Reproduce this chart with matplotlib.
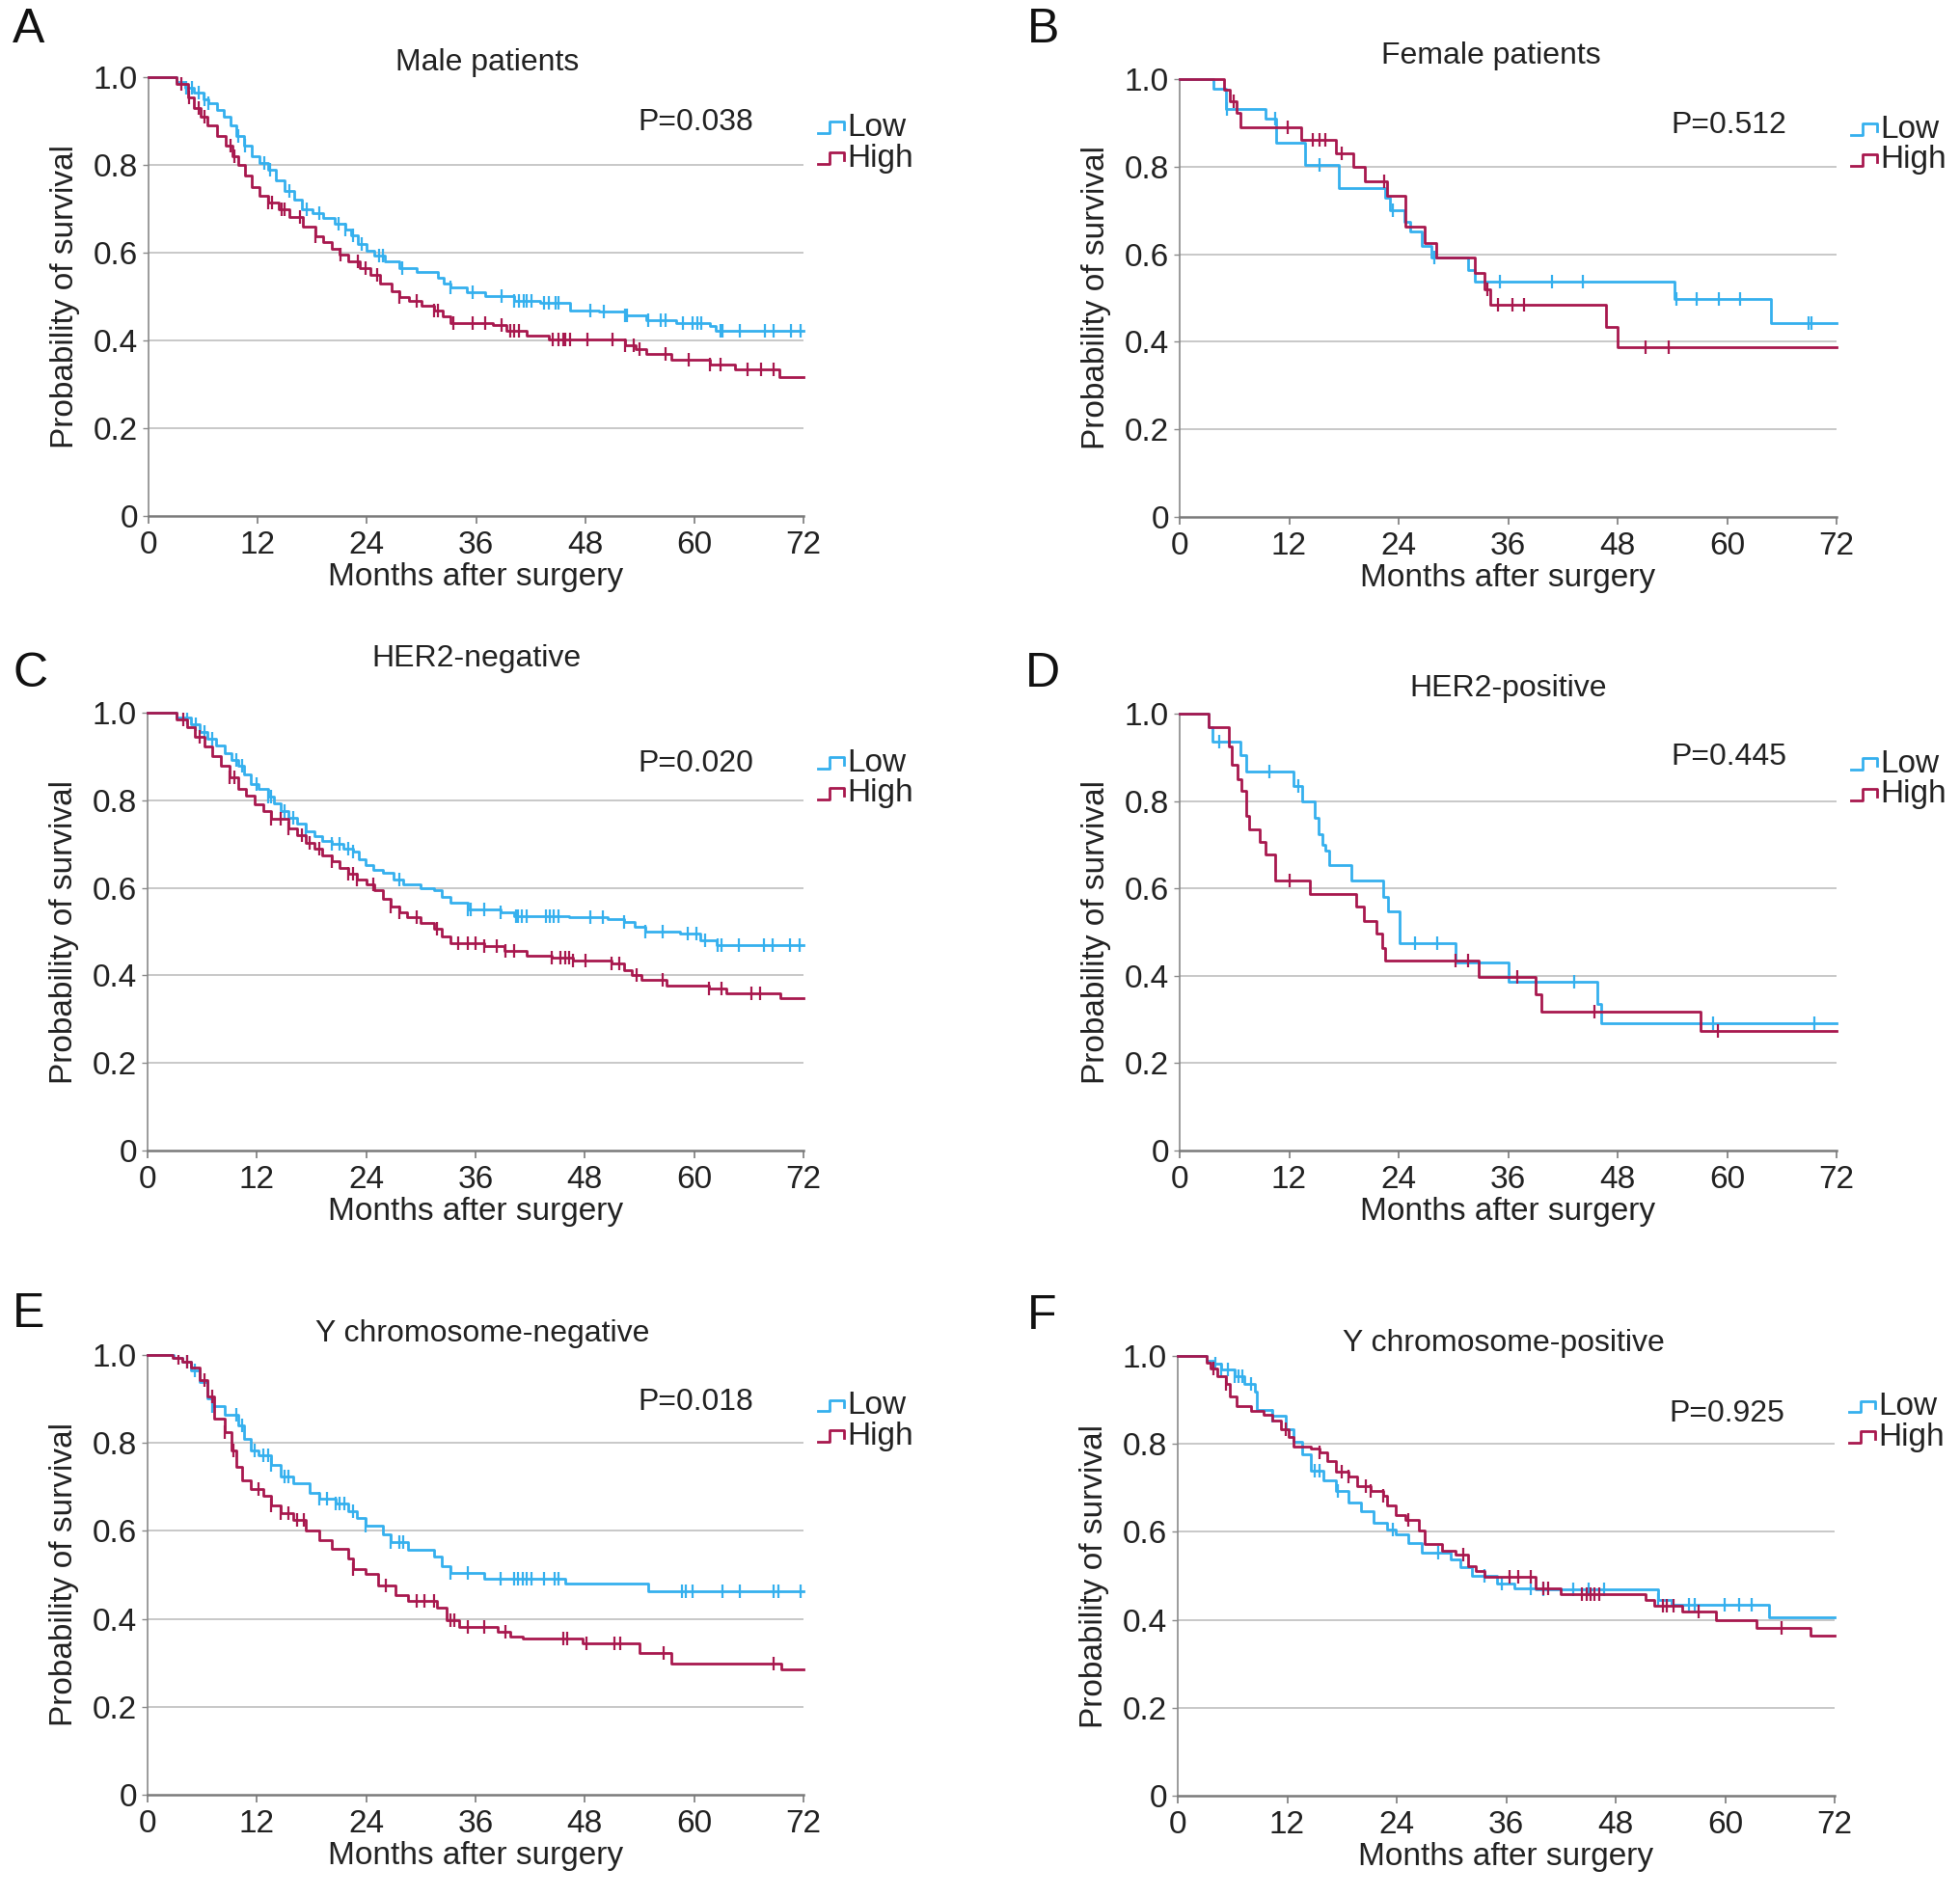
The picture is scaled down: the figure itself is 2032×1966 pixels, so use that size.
import numpy as np
import matplotlib
matplotlib.use("Agg")
import matplotlib.pyplot as plt

plt.rcParams['font.family'] = ['Liberation Sans Narrow', 'Liberation Sans', 'DejaVu Sans']

BLUE = '#35b0ee'
RED = '#a8184e'
W, H = 2032, 1966

# ---- A: male patients
a_low_t = [3.1, 4.0, 5.0, 6.0, 6.6, 7.5, 8.3, 9.0, 9.7, 10.5, 11.3, 12.2, 13.2, 14.0, 15.0, 16.0, 16.9, 18.0,
           19.2, 20.5, 21.6, 22.3, 23.0, 24.0, 24.8, 26.0, 27.6, 29.5, 31.8, 32.5, 33.2, 35.0, 37.0, 40.2,
           43.0, 46.3, 49.5, 52.4, 54.7, 58.0, 61.7, 62.4]
a_low_s = [0.99, 0.975, 0.965, 0.95, 0.94, 0.925, 0.91, 0.89, 0.866, 0.845, 0.82, 0.805, 0.79, 0.765, 0.74,
           0.72, 0.70, 0.69, 0.68, 0.665, 0.653, 0.64, 0.62, 0.605, 0.594, 0.58, 0.565, 0.555, 0.543, 0.53,
           0.52, 0.51, 0.502, 0.49, 0.486, 0.469, 0.465, 0.458, 0.447, 0.44, 0.432, 0.421]
a_low_c = [4.1, 4.8, 5.5, 6.2, 6.6, 9.9, 10.6, 12.7, 13.4, 15.5, 17.4, 18.8, 20.9, 21.6, 22.5, 23.4, 25.3,
           25.8, 27.9, 33.2, 35.6, 38.8, 40.2, 40.7, 41.2, 41.6, 42.1, 43.5, 44.0, 44.7, 45.1, 48.6, 50.0,
           52.4, 52.6, 54.9, 56.3, 56.8, 58.7, 59.8, 60.3, 60.8, 62.9, 63.1, 65.0, 67.8, 68.7, 70.6, 71.7]
a_high_t = [3.1, 4.3, 5.0, 5.7, 6.5, 7.5, 8.5, 9.2, 9.9, 10.6, 11.3, 12.2, 13.2, 14.3, 15.5, 17.0, 18.3, 19.2,
            20.2, 21.0, 22.0, 23.2, 24.4, 25.5, 26.7, 27.6, 28.6, 30.0, 31.4, 32.3, 33.2, 37.9, 39.3, 41.6,
            44.0, 52.4, 53.5, 54.7, 57.5, 61.7, 64.5, 69.4]
a_high_s = [0.985, 0.954, 0.93, 0.91, 0.89, 0.865, 0.844, 0.82, 0.80, 0.775, 0.749, 0.73, 0.715, 0.70, 0.682,
            0.66, 0.638, 0.625, 0.609, 0.595, 0.58, 0.565, 0.55, 0.53, 0.513, 0.50, 0.491, 0.48, 0.469, 0.455,
            0.44, 0.436, 0.421, 0.41, 0.403, 0.388, 0.38, 0.37, 0.355, 0.344, 0.333, 0.316]
a_high_c = [3.6, 4.5, 5.5, 6.2, 9.0, 9.4, 13.2, 13.6, 14.6, 15.0, 16.7, 18.3, 21.1, 23.0, 23.9, 25.1, 27.6,
            29.5, 31.4, 31.8, 33.5, 35.6, 37.0, 38.8, 39.8, 40.2, 40.7, 44.4, 45.1, 45.6, 45.8, 46.3, 48.2,
            51.0, 52.4, 53.3, 54.0, 56.8, 59.4, 61.7, 62.9, 65.9, 67.3, 68.7]

# ---- B: female patients
b_low_t = [3.7, 5.1, 9.4, 10.6, 13.7, 17.4, 22.5, 23.0, 24.6, 25.3, 26.5, 27.6, 31.6, 32.3, 54.2, 64.8]
b_low_s = [0.979, 0.932, 0.91, 0.855, 0.803, 0.752, 0.73, 0.70, 0.674, 0.652, 0.62, 0.593, 0.564, 0.537,
           0.498, 0.443]
b_low_c = [5.2, 10.5, 15.3, 23.4, 27.9, 35.1, 40.8, 44.2, 54.4, 56.7, 59.1, 61.4, 68.9, 69.3]
b_high_t = [4.9, 5.5, 6.2, 6.7, 13.3, 17.1, 19.0, 20.3, 22.7, 24.7, 26.9, 28.1, 32.3, 33.4, 34.0, 46.7, 48.0]
b_high_s = [0.976, 0.95, 0.924, 0.889, 0.862, 0.83, 0.80, 0.766, 0.733, 0.663, 0.626, 0.593, 0.557, 0.52,
            0.484, 0.433, 0.388]
b_high_c = [5.9, 11.8, 14.6, 15.3, 16.0, 17.8, 22.4, 33.7, 34.9, 36.5, 37.7, 51.1, 53.6]

# ---- C: HER2-negative
c_low_t = [3.2, 4.8, 5.7, 6.6, 7.5, 8.5, 9.2, 9.9, 10.6, 11.3, 12.2, 13.2, 13.9, 14.6, 15.5, 16.4, 17.4, 18.3,
           19.2, 20.2, 21.5, 22.5, 23.2, 23.9, 24.8, 25.8, 27.0, 28.1, 30.0, 31.4, 32.3, 33.2, 35.1, 38.8,
           40.2, 46.3, 50.5, 52.3, 53.5, 54.6, 58.4, 60.7, 62.5]
c_low_s = [0.99, 0.973, 0.955, 0.94, 0.925, 0.907, 0.893, 0.878, 0.86, 0.838, 0.825, 0.809, 0.792, 0.776,
           0.76, 0.747, 0.73, 0.718, 0.708, 0.70, 0.69, 0.682, 0.665, 0.652, 0.642, 0.634, 0.62, 0.609, 0.60,
           0.594, 0.58, 0.565, 0.55, 0.543, 0.536, 0.532, 0.528, 0.521, 0.51, 0.499, 0.495, 0.48, 0.47]
c_low_c = [4.3, 5.3, 6.2, 7.1, 9.7, 10.4, 12.0, 13.2, 13.6, 15.0, 16.0, 17.4, 20.2, 21.1, 22.0, 22.5, 27.6,
           35.1, 35.5, 36.9, 38.8, 40.4, 40.7, 41.1, 41.6, 43.7, 44.2, 44.6, 45.1, 48.6, 50.0, 52.3, 54.6,
           56.5, 59.3, 60.2, 61.2, 62.6, 63.0, 64.9, 67.7, 68.6, 70.5, 71.6]
c_high_t = [3.2, 4.3, 5.2, 6.2, 7.1, 8.0, 9.0, 9.9, 10.8, 11.8, 12.7, 13.6, 15.5, 16.4, 17.4, 18.3, 19.2, 20.2,
            21.1, 22.0, 23.0, 24.0, 24.9, 25.8, 26.7, 27.6, 28.5, 30.0, 31.4, 32.3, 33.2, 36.9, 39.2, 41.6,
            44.4, 46.7, 50.9, 52.3, 53.2, 54.2, 57.0, 61.6, 63.5, 69.5]
c_high_s = [0.985, 0.966, 0.945, 0.922, 0.90, 0.878, 0.853, 0.827, 0.81, 0.79, 0.775, 0.758, 0.736, 0.72,
            0.703, 0.69, 0.674, 0.66, 0.645, 0.632, 0.62, 0.607, 0.594, 0.575, 0.558, 0.545, 0.532, 0.52,
            0.507, 0.49, 0.474, 0.467, 0.456, 0.445, 0.441, 0.434, 0.427, 0.412, 0.40, 0.39, 0.376, 0.369,
            0.358, 0.347]
c_high_c = [3.9, 5.7, 9.0, 9.5, 13.6, 14.6, 15.5, 16.9, 17.8, 18.8, 20.2, 22.0, 22.5, 23.0, 24.8, 26.7,
            27.6, 29.5, 31.8, 34.1, 35.1, 36.0, 36.9, 38.3, 39.3, 40.2, 44.4, 45.3, 45.8, 46.3, 46.7, 48.1,
            50.9, 51.8, 53.7, 56.5, 61.6, 63.0, 66.3, 67.2]

# ---- D: HER2-positive
d_low_t = [3.2, 3.6, 6.7, 7.3, 12.5, 13.4, 14.8, 15.2, 15.7, 16.0, 16.4, 18.8, 22.3, 22.8, 24.1, 30.2, 36.0,
           45.8, 46.2]
d_low_s = [0.969, 0.937, 0.904, 0.867, 0.835, 0.80, 0.762, 0.725, 0.70, 0.686, 0.654, 0.617, 0.58, 0.547,
           0.474, 0.43, 0.387, 0.336, 0.292]
d_low_c = [4.3, 9.8, 13.0, 25.8, 28.2, 43.2, 58.5, 69.6]
d_high_t = [3.2, 5.4, 5.7, 6.3, 6.8, 7.3, 7.6, 8.8, 9.4, 10.5, 14.3, 19.4, 20.2, 21.6, 22.2, 22.5, 32.8, 39.0,
            39.7, 57.1]
d_high_s = [0.969, 0.926, 0.882, 0.849, 0.824, 0.766, 0.736, 0.707, 0.678, 0.617, 0.587, 0.558, 0.525, 0.496,
            0.463, 0.434, 0.398, 0.358, 0.318, 0.274]
d_high_c = [12.0, 30.2, 31.6, 37.0, 45.5, 59.0]

# ---- E: Y chromosome-negative
e_low_t = [2.9, 3.8, 4.8, 5.7, 6.6, 7.1, 8.5, 9.9, 10.6, 11.3, 12.2, 13.6, 14.6, 16.0, 17.8, 18.8, 20.6, 22.0,
           23.0, 23.9, 25.8, 26.7, 28.6, 31.4, 32.3, 33.2, 37.0, 45.8, 54.9]
e_low_s = [0.993, 0.985, 0.964, 0.938, 0.902, 0.884, 0.865, 0.84, 0.81, 0.782, 0.771, 0.749, 0.724, 0.709,
           0.687, 0.673, 0.662, 0.644, 0.63, 0.611, 0.593, 0.575, 0.556, 0.542, 0.52, 0.504, 0.492, 0.48,
           0.463]
e_low_c = [4.3, 5.2, 7.1, 9.7, 10.4, 11.8, 12.7, 13.2, 13.6, 15.0, 15.5, 18.8, 19.7, 20.6, 21.1, 21.6, 22.5,
           23.9, 26.7, 27.6, 28.1, 33.2, 35.1, 38.8, 40.2, 40.7, 41.2, 41.6, 42.1, 43.5, 44.7, 45.1, 58.7,
           59.1, 59.8, 63.1, 65.0, 68.7, 69.2, 71.7]
e_high_t = [2.7, 3.8, 4.8, 5.7, 6.6, 7.3, 8.5, 9.2, 9.7, 10.4, 11.3, 12.7, 13.6, 14.6, 16.0, 17.4, 18.8, 20.2,
            22.0, 22.5, 23.9, 25.3, 27.2, 28.6, 31.8, 32.8, 34.2, 38.4, 39.8, 41.2, 47.7, 54.0, 57.5, 69.6]
e_high_s = [0.993, 0.985, 0.971, 0.942, 0.905, 0.855, 0.825, 0.782, 0.745, 0.716, 0.695, 0.68, 0.658, 0.64,
            0.625, 0.60, 0.578, 0.56, 0.538, 0.513, 0.502, 0.476, 0.455, 0.44, 0.425, 0.396, 0.382, 0.371,
            0.36, 0.356, 0.345, 0.323, 0.298, 0.285]
e_high_c = [3.4, 4.3, 6.2, 7.1, 8.5, 9.4, 12.2, 13.6, 14.6, 15.5, 16.4, 17.1, 22.5, 26.2, 29.5, 30.4, 31.4,
            33.2, 33.7, 35.1, 37.0, 39.3, 45.6, 46.1, 48.2, 51.2, 51.9, 56.6, 68.7]

# ---- F: Y chromosome-positive
f_low_t = [3.2, 3.9, 4.8, 6.2, 7.3, 8.5, 8.7, 10.4, 11.8, 12.7, 13.6, 14.6, 16.0, 17.3, 18.7, 20.1, 21.5, 22.9,
           23.9, 25.3, 26.7, 29.9, 31.0, 32.2, 35.0, 36.9, 39.2, 52.7, 54.1, 64.8]
f_low_s = [0.99, 0.983, 0.969, 0.954, 0.936, 0.918, 0.878, 0.863, 0.834, 0.805, 0.776, 0.74, 0.718, 0.693,
           0.667, 0.646, 0.62, 0.606, 0.595, 0.575, 0.552, 0.537, 0.52, 0.501, 0.483, 0.472, 0.47, 0.446,
           0.435, 0.405]
f_low_c = [4.1, 4.8, 5.5, 6.2, 6.7, 7.1, 8.0, 10.4, 15.0, 15.5, 17.6, 23.6, 28.5, 33.6, 35.5, 38.7, 40.1,
           43.4, 45.0, 46.7, 52.7, 56.0, 56.7, 59.9, 61.5, 62.9]
f_high_t = [3.2, 3.6, 4.3, 5.3, 5.7, 6.4, 8.0, 9.4, 10.4, 11.3, 12.2, 12.7, 14.6, 15.5, 16.4, 17.3, 18.7, 19.7,
            21.1, 22.5, 22.9, 23.9, 25.0, 26.4, 27.1, 29.0, 30.4, 31.8, 32.7, 33.6, 39.2, 42.0, 51.3, 52.2,
            55.3, 59.0, 63.4, 69.4]
f_high_s = [0.985, 0.972, 0.954, 0.936, 0.907, 0.885, 0.874, 0.867, 0.852, 0.834, 0.816, 0.794, 0.79, 0.78,
            0.761, 0.736, 0.725, 0.703, 0.693, 0.682, 0.66, 0.638, 0.627, 0.602, 0.573, 0.558, 0.548, 0.523,
            0.511, 0.497, 0.472, 0.458, 0.446, 0.432, 0.418, 0.40, 0.382, 0.363]
f_high_c = [3.9, 5.3, 11.8, 15.5, 18.0, 18.7, 20.6, 21.1, 22.5, 25.3, 31.3, 36.4, 37.3, 38.7, 40.1, 40.6,
            44.3, 44.8, 45.3, 45.7, 46.2, 53.2, 53.6, 54.3, 57.1, 66.2]

titles = ['Male patients', 'Female patients', 'HER2-negative', 'HER2-positive',
          'Y chromosome-negative', 'Y chromosome-positive']
pvalues = ['P=0.038', 'P=0.512', 'P=0.020', 'P=0.445', 'P=0.018', 'P=0.925']
letters = ['A', 'B', 'C', 'D', 'E', 'F']

panels = [
    (a_low_t, a_low_s, a_low_c, a_high_t, a_high_s, a_high_c),
    (b_low_t, b_low_s, b_low_c, b_high_t, b_high_s, b_high_c),
    (c_low_t, c_low_s, c_low_c, c_high_t, c_high_s, c_high_c),
    (d_low_t, d_low_s, d_low_c, d_high_t, d_high_s, d_high_c),
    (e_low_t, e_low_s, e_low_c, e_high_t, e_high_s, e_high_c),
    (f_low_t, f_low_s, f_low_c, f_high_t, f_high_s, f_high_c),
]

# layout in pixels: (left, right, top, bottom) of axes, title xy, letter xy, p-value y
boxes = [(154, 833, 80, 535), (1223, 1904, 82, 536), (153, 833, 739, 1193),
         (1223, 1904, 740, 1193), (153, 833, 1405, 1861), (1221, 1902, 1406, 1862)]
title_xy = [(505, 65), (1546, 58), (494, 683), (1564, 714), (500, 1383), (1559, 1393)]
letter_xy = [(13, 8), (1065, 8), (13, 676), (1063, 676), (13, 1340), (1065, 1342)]
p_y = [0.897, 0.894, 0.883, 0.90, 0.893, 0.868]


def km(ax, t, s, cens, color):
    tt = np.r_[0.0, t, 72.0]
    ss = np.r_[1.0, s, s[-1]]
    ax.step(tt, ss, where='post', color=color, lw=2.0, clip_on=False, zorder=3)
    idx = np.searchsorted(tt, cens, side='right') - 1
    ax.plot(cens, ss[idx], ls='none', marker='|', ms=10, mew=1.6, color=color, zorder=3)


fig = plt.figure(figsize=(W / 100, H / 100), dpi=100)

for i, (lt, ls_, lc, ht, hs, hc) in enumerate(panels):
    l, r, t, b = boxes[i]
    ax = fig.add_axes([l / W, 1 - b / H, (r - l) / W, (b - t) / H])
    ax.set_xlim(0, 72)
    ax.set_ylim(0, 1)
    for y in [0.2, 0.4, 0.6, 0.8]:
        ax.axhline(y, color='#c8c8c8', lw=1.4, zorder=1)
    km(ax, lt, ls_, lc, BLUE)
    km(ax, ht, hs, hc, RED)

    for sp in ['top', 'right']:
        ax.spines[sp].set_visible(False)
    ax.spines['left'].set_color('#8a8a8a')
    ax.spines['left'].set_linewidth(1.2)
    ax.spines['bottom'].set_color('#7a7a7a')
    ax.spines['bottom'].set_linewidth(1.8)
    ax.set_xticks(range(0, 73, 12))
    ax.set_yticks([0, 0.2, 0.4, 0.6, 0.8, 1.0])
    ax.set_yticklabels(['0', '0.2', '0.4', '0.6', '0.8', '1.0'])
    ax.tick_params(axis='x', length=6, width=1.2, color='#7a7a7a', pad=5, labelsize=24, labelcolor='#222222')
    ax.tick_params(axis='y', length=4, width=1.0, color='#8a8a8a', pad=4, labelsize=24, labelcolor='#222222')
    ax.set_xlabel('Months after surgery', fontsize=24, color='#222222', labelpad=1)
    ax.set_ylabel('Probability of survival', fontsize=24, color='#222222', labelpad=10)

    ax.text(0.836, p_y[i], pvalues[i], transform=ax.transAxes, ha='center', va='center',
            fontsize=23, color='#222222')

    # legend with step glyphs
    for yy, lab, col in [(0.885, 'Low', BLUE), (0.815, 'High', RED)]:
        gx = np.array([1.022, 1.040, 1.040, 1.062, 1.062])
        gy = yy + np.array([-0.013, -0.013, 0.013, 0.013, -0.004])
        ax.plot(gx, gy, color=col, lw=2.0, transform=ax.transAxes, clip_on=False)
        ax.text(1.066, yy, lab, transform=ax.transAxes, ha='left', va='center',
                fontsize=24, color='#222222')

    fig.text(title_xy[i][0] / W, 1 - title_xy[i][1] / H, titles[i], ha='center', va='center',
             fontsize=23, color='#222222')
    fig.text(letter_xy[i][0] / W, 1 - letter_xy[i][1] / H, letters[i], ha='left', va='top',
             fontsize=36, color='#111111')

fig.savefig('out.png', dpi=100)
